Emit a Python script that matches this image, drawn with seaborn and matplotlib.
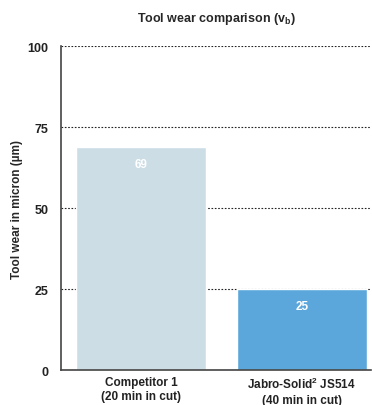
import matplotlib
matplotlib.use('Agg')
import matplotlib.pyplot as plt
import seaborn as sns
import pandas as pd

categories = ['Competitor 1\n(20 min in cut)', 'Jabro-Solid$^{\\mathregular{2}}$ JS514\n(40 min in cut)']
tool_wear = [69, 25]
bar_colors = ['#CCDDE5', '#5BA7DB']
y_ticks = [0, 25, 50, 75, 100]

df = pd.DataFrame({'tool': categories, 'wear': tool_wear})

sns.set_theme(style='white')
plt.rcParams['font.family'] = ['Liberation Sans', 'DejaVu Sans']
plt.rcParams['font.weight'] = 'bold'
plt.rcParams['mathtext.default'] = 'regular'

fig = plt.figure(figsize=(3.72, 4.06), dpi=100)
ax = fig.add_axes([0.164, 0.086, 0.833, 0.798])

sns.barplot(data=df, x='tool', y='wear', hue='tool', palette=bar_colors,
            saturation=1, width=0.81, legend=False, ax=ax, zorder=2)

# value labels inside the top of each bar
for p, v in zip(ax.patches, tool_wear):
    ax.text(p.get_x() + p.get_width() / 2, v - 5.3, str(v), ha='center', va='center',
            color='white', fontsize=8.5, fontweight='bold', zorder=3)

ax.set_ylim(0, 100)
ax.set_xlim(-0.5, 1.43)
ax.set_yticks(y_ticks)
ax.yaxis.grid(True, linestyle=(0, (1.5, 1.5)), color='#222222', linewidth=0.8, zorder=1)
ax.set_axisbelow(True)

ax.set_title('Tool wear comparison (v$_{\\mathregular{b}}$)', fontsize=9, fontweight='bold', pad=18)
ax.set_ylabel('Tool wear in micron (µm)', fontsize=8.5, fontweight='bold', labelpad=3)
ax.set_xlabel('')

ax.tick_params(axis='y', which='major', length=6, width=1, direction='out', labelsize=9, color='#333333', pad=3)
ax.tick_params(axis='x', length=0, labelsize=8.5, pad=4)
for lab in ax.get_xticklabels():
    lab.set_linespacing(1.3)
for lab in ax.get_xticklabels() + ax.get_yticklabels():
    lab.set_fontweight('bold')
    lab.set_color('#222222')

sns.despine(ax=ax, top=True, right=True)
ax.spines['left'].set_color('#444444')
ax.spines['bottom'].set_color('#444444')
ax.spines['left'].set_linewidth(1.2)
ax.spines['bottom'].set_linewidth(1.2)

fig.savefig('out.png', dpi=100)
